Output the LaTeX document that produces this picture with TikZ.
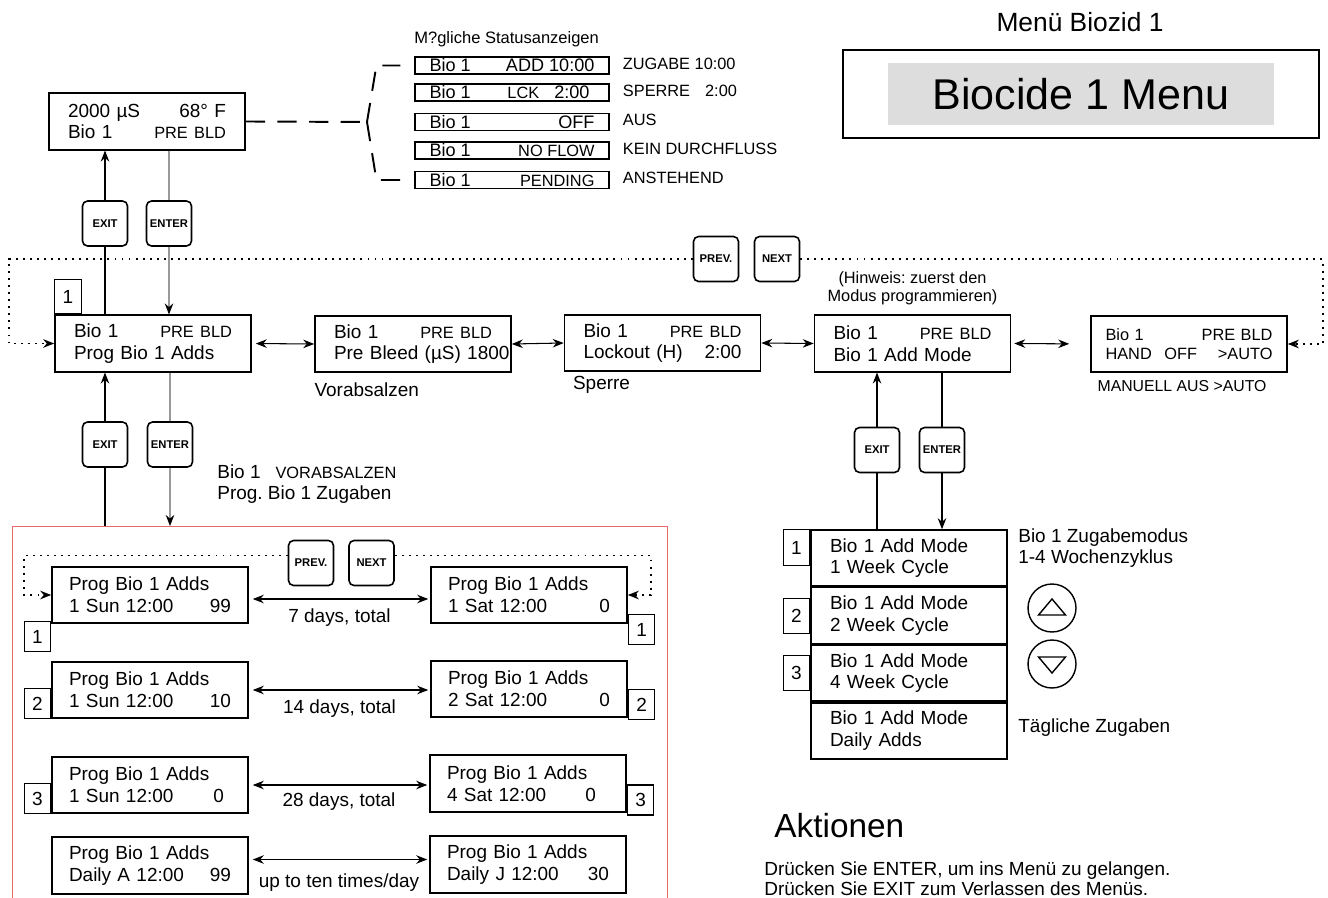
\documentclass[tikz,border=0pt]{standalone}
\usepackage{fontspec}
\setmainfont{Liberation Sans}
\usetikzlibrary{arrows.meta,positioning}
\definecolor{framered}{HTML}{E66A6A}
\definecolor{menugray}{HTML}{DDDDDD}
\definecolor{entergray}{HTML}{999999}
\newcommand{\lcdfont}{\fontsize{10.8}{12.4}\selectfont}
\newcommand{\lcdsmall}{\fontsize{9.3}{11}\selectfont}
\newcommand{\lcdline}[3][3.16cm]{\makebox[#1][l]{#2\hfill#3}}
\frenchspacing

\begin{document}
\begin{tikzpicture}[
    x=0.02cm, y=-0.02cm,
    lcd/.style={draw, line width=0.9pt, minimum height=1.13cm, text width=3.16cm, inner xsep=0.38cm, inner ysep=0.08cm, align=left, font=\lcdfont},
    rowbox/.style={lcd, text width=3.24cm, inner xsep=0.34cm},
    statbox/.style={draw, line width=0.7pt, minimum height=0.34cm, inner xsep=0.29cm, inner ysep=0pt, text height=7.4pt, text depth=0pt, font=\fontsize{10.3}{11}\selectfont},
    tagbox/.style={draw, line width=0.6pt, minimum width=0.53cm, minimum height=0.6cm, inner sep=0pt, font=\lcdfont},
    btn/.style={draw, rounded corners=0.1cm, line width=0.9pt, minimum width=0.9cm, minimum height=0.9cm, inner sep=0pt, font=\fontsize{6.4}{7}\selectfont\bfseries},
    freetext/.style={inner sep=0pt, font=\lcdfont},
    hint/.style={inner sep=0pt, font=\lcdsmall},
    arrow/.style={-{Stealth[length=2.2mm,width=1.7mm]}, line width=0.6pt},
    dbl/.style={{Stealth[length=2.2mm,width=1.7mm]}-{Stealth[length=2.2mm,width=1.7mm]}, line width=0.6pt},
    link/.style={line width=0.6pt},
    enterline/.style={draw=entergray, line width=0.7pt},
    enterarrow/.style={enterline, -{Stealth[length=2.2mm,width=1.7mm,black]}},
    loopline/.style={line width=1.1pt, dash pattern=on 1.1pt off 2.9pt, -{Stealth[length=2.2mm,width=1.7mm]}},
    dashline/.style={line width=1.1pt, dash pattern=on 11pt off 7pt}
  ]

  \useasboundingbox (0,0) rectangle (1328,898);

  \node[freetext, font=\fontsize{15}{18}\selectfont] (menutitle) at (1080,22) {Menü Biozid 1};
  \node[draw, line width=0.7pt, minimum width=9.52cm, minimum height=1.76cm] (menuframe) at (1081,94) {};
  \node[fill=menugray, minimum width=7.72cm, minimum height=1.24cm, font=\fontsize{24.5}{28}\selectfont] (menuname) at (1081,94) {Biocide 1 Menu};

  \node[lcd] (disp) at (147,121.5) {\lcdline{2000 µS}{68° F}\\\lcdline{Bio 1}{\lcdsmall PRE BLD}};
  \coordinate (brk) at (367,122);

  \node[hint, anchor=west, font=\fontsize{9.4}{11}\selectfont] (stattitle) at (414,39) {M?gliche Statusanzeigen};
  \node[statbox] (sadd) at (512,65.5) {\lcdline[3.3cm]{Bio 1}{ADD 10:00}};
  \node[statbox] (slck) at (512,92.5) {\lcdline[3.3cm]{Bio 1}{{\lcdsmall LCK}\hspace{0.3cm}2:00\hspace{0.1cm}}};
  \node[statbox] (soff) at (512,122) {\lcdline[3.3cm]{Bio 1}{OFF}};
  \node[statbox] (snoflow) at (512,150.5) {\lcdline[3.3cm]{Bio 1}{\lcdsmall NO FLOW}};
  \node[statbox] (spend) at (512,180) {\lcdline[3.3cm]{Bio 1}{\lcdsmall PENDING}};
  \node[hint, anchor=west] (ladd) at ([xshift=0.26cm, yshift=0.04cm]sadd.east) {ZUGABE 10:00};
  \node[hint, anchor=west] (llck) at ([xshift=0.26cm, yshift=0.04cm]slck.east) {SPERRE\hspace{0.3cm}2:00};
  \node[hint, anchor=west] (loff) at ([xshift=0.26cm, yshift=0.04cm]soff.east) {AUS};
  \node[hint, anchor=west] (lnoflow) at ([xshift=0.26cm, yshift=0.04cm]snoflow.east) {KEIN DURCHFLUSS};
  \node[hint, anchor=west] (lpend) at ([xshift=0.26cm, yshift=0.04cm]spend.east) {ANSTEHEND};

  \node[btn] (exitT) at (105,223.5) {EXIT};
  \node[btn] (enterT) at (169,223.5) {ENTER};
  \node[btn] (prevT) at (716,259) {PREV.};
  \node[btn] (nextT) at (777,259) {NEXT};

  \node[lcd] (progadds) at (153,343.5) {\lcdline{Bio 1}{\lcdsmall PRE BLD}\\Prog Bio 1 Adds};
  \node[tagbox, minimum height=0.68cm, anchor=south west] (tagA) at (progadds.north west) {1};
  \node[lcd] (prebleed) at (413,344) {\lcdline{Bio 1}{\lcdsmall PRE BLD}\\\mbox{Pre Bleed (µS) 1800}};
  \node[lcd] (lockout) at (662.5,343) {\lcdline{Bio 1}{\lcdsmall PRE BLD}\\\lcdline{Lockout (H)}{2:00}};
  \node[lcd] (addmode) at (912.5,343.5) {\lcdline{Bio 1}{\lcdsmall PRE BLD}\\Bio 1 Add Mode};
  \node[lcd, text width=3.34cm, inner xsep=0.29cm, font=\lcdsmall] (handoff) at (1189,344) {\raisebox{-0.1cm}{\lcdline[3.34cm]{Bio 1}{PRE BLD}}\\\raisebox{-0.1cm}{\lcdline[3.34cm]{HAND\hspace{0.25cm}OFF}{>AUTO}}};
  \node[freetext, anchor=north west] (vorab) at ([yshift=-0.18cm]prebleed.south west) {Vorabsalzen};
  \node[freetext, anchor=north west] (sperre) at ([xshift=0.18cm, yshift=-0.08cm]lockout.south west) {Sperre};
  \node[hint, anchor=north west, font=\fontsize{9}{11}\selectfont] (manuell) at ([xshift=0.14cm, yshift=-0.14cm]handoff.south west) {MANUELL AUS >AUTO};
  \node[hint, align=center, font=\fontsize{9.3}{10.6}\selectfont, above=0.18cm of addmode] (hinweis) {(Hinweis: zuerst den\\Modus programmieren)};

  \node[btn] (exitL) at (105,444.5) {EXIT};
  \node[btn] (enterL) at (170,444.5) {ENTER};
  \node[freetext, anchor=west, align=left] (zugaben) at (217,484) {Bio 1\hspace{0.3cm}{\lcdsmall VORABSALZEN}\\Prog. Bio 1 Zugaben};

  \node[draw=framered, line width=0.8pt, minimum width=13.1cm, minimum height=8cm, anchor=north west, inner sep=0pt] (progframe) at (12,526) {};
  \node[btn] (prevL) at (311,563) {PREV.};
  \node[btn] (nextL) at (371.5,563) {NEXT};
  \node[rowbox] (sun1) at (150,595) {Prog Bio 1 Adds\\\lcdline[3.24cm]{1 Sun 12:00}{99}};
  \node[rowbox] (sat1) at (529,595) {Prog Bio 1 Adds\\\lcdline[3.24cm]{1 Sat 12:00}{0}};
  \node[rowbox] (sun2) at (150,690) {Prog Bio 1 Adds\\\lcdline[3.24cm]{1 Sun 12:00}{10}};
  \node[rowbox] (sat2) at (529,689) {Prog Bio 1 Adds\\\lcdline[3.24cm]{2 Sat 12:00}{0}};
  \node[rowbox] (sun4) at (150,785) {Prog Bio 1 Adds\\\lcdline[3.24cm]{1 Sun 12:00}{0\hspace{0.14cm}}};
  \node[rowbox] (sat4) at (528,783.5) {Prog Bio 1 Adds\\\lcdline[3.24cm]{4 Sat 12:00}{0\hspace{0.26cm}}};
  \node[rowbox] (dailyA) at (150,865.5) {Prog Bio 1 Adds\\\lcdline[3.24cm]{Daily A 12:00}{99}};
  \node[rowbox] (dailyJ) at (528,864.5) {Prog Bio 1 Adds\\\lcdline[3.24cm]{Daily J 12:00}{30}};
  \node[tagbox, anchor=north east] (tag1l) at ([yshift=0.06cm]sun1.south west) {1};
  \node[tagbox, anchor=north west] (tag1r) at ([yshift=0.2cm]sat1.south east) {1};
  \node[tagbox, anchor=south east] (tag2l) at (sun2.south west) {2};
  \node[tagbox, anchor=south west] (tag2r) at ([yshift=-0.04cm]sat2.south east) {2};
  \node[tagbox, anchor=south east] (tag3l) at (sun4.south west) {3};
  \node[tagbox, anchor=south west] (tag3r) at ([yshift=-0.06cm]sat4.south east) {3};

  \node[btn] (exitR) at (877,450) {EXIT};
  \node[btn] (enterR) at (942,450) {ENTER};
  \node[lcd, minimum height=1.12cm] (week1) at (909,558) {Bio 1 Add Mode\\1 Week Cycle};
  \node[lcd, minimum height=1.12cm, below=0pt of week1] (week2) {Bio 1 Add Mode\\2 Week Cycle};
  \node[lcd, minimum height=1.12cm, below=0pt of week2] (week4) {Bio 1 Add Mode\\4 Week Cycle};
  \node[lcd, minimum height=1.12cm, below=0pt of week4] (dailyadds) {Bio 1 Add Mode\\Daily Adds};
  \node[tagbox, minimum height=0.72cm, anchor=north east] (tagm1) at (week1.north west) {1};
  \node[tagbox, minimum height=0.7cm, anchor=east] (tagm2) at (week2.west) {2};
  \node[tagbox, minimum height=0.7cm, anchor=east] (tagm3) at (week4.west) {3};
  \node[freetext, anchor=west, align=left] (zugabemodus) at (1018,548) {Bio 1 Zugabemodus\\1-4 Wochenzyklus};
  \node[circle, draw, line width=0.8pt, minimum size=0.96cm] (upkey) at (1052,608) {};
  \node[circle, draw, line width=0.8pt, minimum size=0.96cm] (downkey) at (1052,664) {};
  \node[freetext, anchor=west] (taeglich) at (1018,728) {Tägliche Zugaben};

  \node[freetext, anchor=base west, font=\fontsize{19}{22}\selectfont] (aktionen) at (774,837) {Aktionen};
  \node[freetext, anchor=base west] (enterhint) at (764,875) {Drücken Sie ENTER, um ins Menü zu gelangen.};
  \node[freetext, anchor=base west] (exithint) at (764,895) {Drücken Sie EXIT zum Verlassen des Menüs.};

  \draw[dashline] (disp.east) -- (brk);
  \draw[dashline] (brk) -- ([xshift=-0.76cm]sadd.west) -- ([xshift=-0.28cm]sadd.west);
  \draw[dashline] (brk) -- ([xshift=-0.76cm]spend.west) -- ([xshift=-0.28cm]spend.west);

  \draw[arrow] (exitT.north) -- (exitT.north |- disp.south);
  \draw[enterline] (enterT.north |- disp.south) -- (enterT.north);
  \draw[link] (exitT.south) -- (exitT.south |- progadds.north);
  \draw[enterarrow] (enterT.south) -- (enterT.south |- progadds.north);

  \draw[loopline] (prevT.west) -| ([xshift=-0.9cm]progadds.west) -- (progadds.west);
  \draw[loopline] (nextT.east) -| ([xshift=0.7cm]handoff.east) -- (handoff.east);

  \draw[dbl, shorten <=0.08cm] (progadds.east) -- (prebleed.west);
  \draw[dbl] (prebleed.east) -- (lockout.west);
  \draw[dbl] (lockout.east) -- (addmode.west);
  \draw[dbl, shorten <=0.06cm, shorten >=0.42cm] (addmode.east) -- (handoff.west);

  \draw[arrow] (exitL.north) -- (exitL.north |- progadds.south);
  \draw[link] (exitL.south) -- (exitL.south |- progframe.north);
  \draw[enterline] (enterL.north |- progadds.south) -- (enterL.north);
  \draw[enterarrow] (enterL.south) -- (enterL.south |- progframe.north);

  \draw[loopline] ([yshift=0.15cm]prevL.west) -| ([xshift=-0.54cm]sun1.west) -- (sun1.west);
  \draw[loopline] ([yshift=0.15cm]nextL.east) -| ([xshift=0.46cm]sat1.east) -- (sat1.east);

  \draw[dbl, shorten <=0.08cm, shorten >=0.04cm] ([yshift=-0.08cm]sun1.east) -- ([yshift=-0.08cm]sun1.east -| sat1.west) node[freetext, midway, below=5pt] (days7) {7 days, total};
  \draw[dbl, shorten <=0.08cm, shorten >=0.04cm] (sun2.east) -- (sun2.east -| sat2.west) node[freetext, midway, below=5pt] (days14) {14 days, total};
  \draw[dbl, shorten <=0.08cm, shorten >=0.04cm] (sun4.east) -- (sun4.east -| sat4.west) node[freetext, midway, below=4pt] (days28) {28 days, total};
  \draw[dbl, shorten <=0.08cm, shorten >=0.04cm] ([yshift=0.12cm]dailyA.east) -- ([yshift=0.12cm]dailyA.east -| dailyJ.west) node[freetext, midway, below=8pt] (tenday) {up to ten times/day};

  \draw[arrow] (exitR.north) -- (exitR.north |- addmode.south);
  \draw[link] (exitR.south) -- (exitR.south |- week1.north);
  \draw[link] (enterR.north |- addmode.south) -- (enterR.north);
  \draw[arrow] (enterR.south) -- (enterR.south |- week1.north);

  \draw[line width=0.8pt] ([xshift=-0.27cm, yshift=-0.14cm]upkey.center) -- ([xshift=0.27cm, yshift=-0.14cm]upkey.center) -- ([yshift=0.18cm]upkey.center) -- cycle;
  \draw[line width=0.8pt] ([xshift=-0.27cm, yshift=0.14cm]downkey.center) -- ([xshift=0.27cm, yshift=0.14cm]downkey.center) -- ([yshift=-0.18cm]downkey.center) -- cycle;

\end{tikzpicture}
\end{document}
